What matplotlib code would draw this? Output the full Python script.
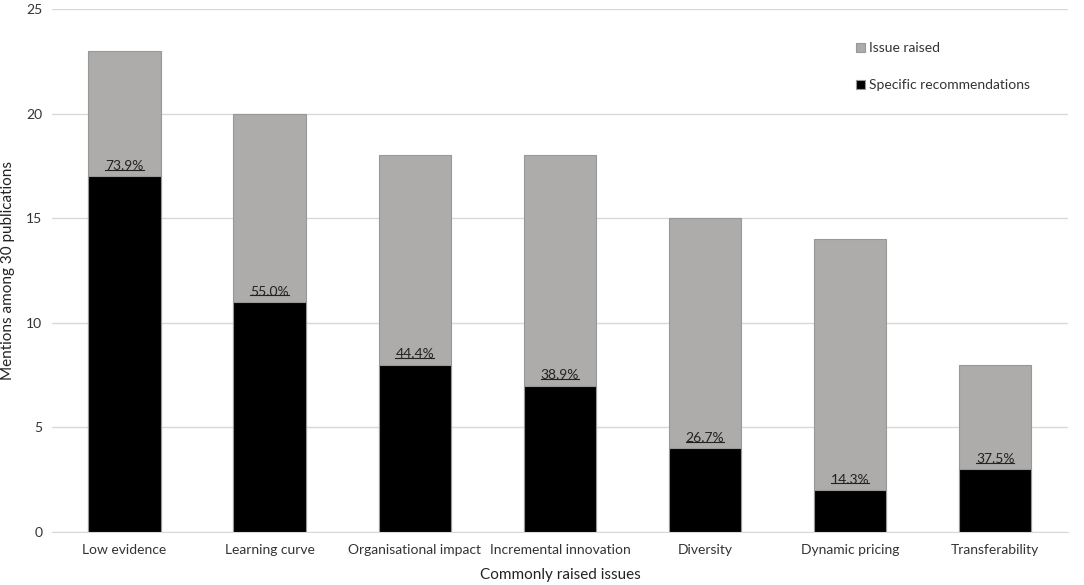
import matplotlib.pyplot as plt
import numpy as np
from matplotlib.lines import Line2D

categories = ["Low evidence", "Learning curve", "Organisational impact",
              "Incremental innovation", "Diversity", "Dynamic pricing", "Transferability"]
issue_raised = [23, 20, 18, 18, 15, 14, 8]
specific_recs = [17, 11, 8, 7, 4, 2, 3]
yticks = [0, 5, 10, 15, 20, 25]

plt.rcParams["font.family"] = ["Lato", "DejaVu Sans"]

fig = plt.figure(figsize=(10.84, 5.85), dpi=100)
ax = fig.add_axes([0.048, 0.0906, 0.937, 0.894])

x = np.arange(len(categories))
gray = "#AEABAB"
ax.bar(x, issue_raised, width=0.5, color=gray, edgecolor="#9A9797", linewidth=0.8,
       label="Issue raised", zorder=2)
ax.bar(x, specific_recs, width=0.5, color="black", edgecolor="#9A9797", linewidth=0.8,
       label="Specific recommendations", zorder=3)

labels = []
for xi, tot, rec in zip(x, issue_raised, specific_recs):
    pct = 100 * rec / tot
    t = ax.text(xi, rec + 0.2, f"{pct:.1f}%", ha="center", va="bottom",
                fontsize=10, color="#222222", zorder=4)
    labels.append(t)

ax.set_ylim(0, 25)
ax.set_xlim(-0.5, len(categories) - 0.5)
ax.set_yticks(yticks)
ax.set_xticks(x)
ax.set_xticklabels(categories, fontsize=10, color="#333333")
ax.tick_params(axis="y", labelsize=10, colors="#333333", length=0, pad=7)
ax.tick_params(axis="x", length=0, pad=9)
ax.grid(axis="y", color="#D9D9D9", linewidth=1, zorder=0)
ax.set_axisbelow(True)
for s in ["top", "right", "left"]:
    ax.spines[s].set_visible(False)
ax.spines["bottom"].set_color("#D9D9D9")

ax.set_xlabel("Commonly raised issues", fontsize=11, color="#222222", labelpad=8)
ax.set_ylabel("Mentions among 30 publications", fontsize=11, color="#222222", labelpad=8)

ax.legend(loc="upper right", bbox_to_anchor=(0.975, 0.96), frameon=False, fontsize=10,
          handlelength=0.6, handleheight=0.6, handletextpad=0.3, labelspacing=1.8,
          labelcolor="#333333")

# underline the percentage labels, using their rendered extents
fig.canvas.draw()
renderer = fig.canvas.get_renderer()
inv = fig.transFigure.inverted()
for t in labels:
    bb = t.get_window_extent(renderer)
    (x0, y0), (x1, _) = inv.transform([(bb.x0, bb.y0 + 2.5), (bb.x1, bb.y0 + 2.5)])
    fig.add_artist(Line2D([x0, x1], [y0, y0], color="#222222", linewidth=0.8, zorder=5))

fig.savefig("out.png", dpi=100)
